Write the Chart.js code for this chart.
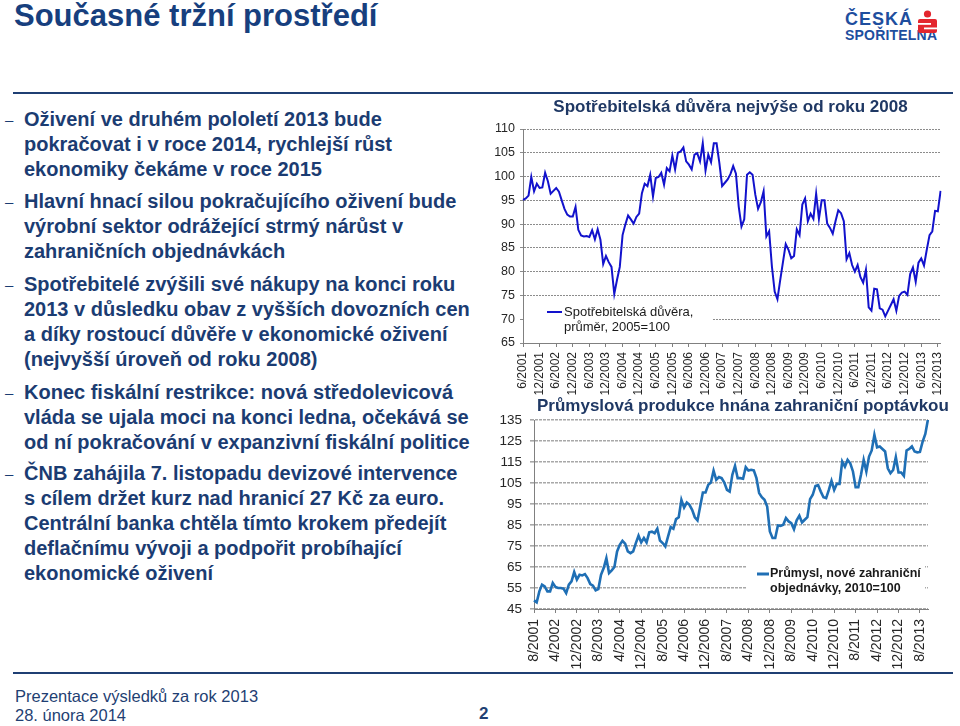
<!DOCTYPE html>
<html><head><meta charset="utf-8">
<script src="https://cdn.jsdelivr.net/npm/chart.js@4/dist/chart.umd.min.js"></script>
<style>
html,body{margin:0;padding:0;background:#fff}
body{width:960px;height:726px;position:relative;overflow:hidden;font-family:"Liberation Sans",Arial,sans-serif}
.abs{position:absolute}
#title{left:14px;top:0px;font:bold 31px/31px "Liberation Sans",Arial,sans-serif;color:#173f7e;white-space:nowrap}
hr.rule{position:absolute;left:13px;width:940px;margin:0;border:0;height:2px;background-color:#1f3f73;color:#1f3f73}
.b{position:absolute;left:24px;font:bold 20px/25px "Liberation Sans",Arial,sans-serif;color:#1b3c72;white-space:nowrap}
.d{position:absolute;left:-19px;font-weight:normal;font-size:15px}
.foot{position:absolute;left:15px;top:687px;font:16.5px/19px "Liberation Sans",Arial,sans-serif;color:#1f3f73;white-space:nowrap}
#pg{left:479px;top:704px;font:bold 17px/19px "Liberation Sans",Arial,sans-serif;color:#1f3f73}
.ct{position:absolute;font:bold 17px/20px "Liberation Sans",Arial,sans-serif;color:#1f3864;white-space:nowrap}
canvas{position:absolute}
#logo1{left:845px;top:10px;font:bold 18px/18px "Liberation Sans",Arial,sans-serif;color:#1e4e9e;letter-spacing:1px}
#logo2{left:845px;top:28px;font:bold 14px/14px "Liberation Sans",Arial,sans-serif;color:#1e4e9e;letter-spacing:0.2px}
</style></head>
<body>
<div id="title" class="abs">Současné tržní prostředí</div>
<div id="logo1" class="abs">ČESKÁ</div>
<div id="logo2" class="abs">SPOŘITELNA</div>
<svg class="abs" style="left:917px;top:10px" width="21" height="24" viewBox="0 0 21 24">
  <circle cx="10.5" cy="4" r="3.6" fill="#e3262e"/>
  <rect x="1" y="9" width="19" height="14" rx="2" fill="#e3262e"/>
  <rect x="1" y="13" width="13" height="1.8" fill="#fff"/>
  <rect x="7" y="17.5" width="13" height="1.8" fill="#fff"/>
</svg>
<hr class="rule" style="top:92px">
<svg class="abs" style="left:13px;top:668px" width="940" height="10" viewBox="0 0 940 10">
  <path d="M0 4 H940 V6 H0 Z" fill="#1f3f73"/>
</svg>

<div class="b" style="top:107px"><span class="d">–</span>Oživení ve druhém pololetí 2013 bude<br>pokračovat i v roce 2014, rychlejší růst<br>ekonomiky čekáme v roce 2015</div>
<div class="b" style="top:189px"><span class="d">–</span>Hlavní hnací silou pokračujícího oživení bude<br>výrobní sektor odrážející strmý nárůst v<br>zahraničních objednávkách</div>
<div class="b" style="top:272px"><span class="d">–</span>Spotřebitelé zvýšili své nákupy na konci roku<br>2013 v důsledku obav z vyšších dovozních cen<br>a díky rostoucí důvěře v ekonomické oživení<br>(nejvyšší úroveň od roku 2008)</div>
<div class="b" style="top:380px"><span class="d">–</span>Konec fiskální restrikce: nová středolevicová<br>vláda se ujala moci na konci ledna, očekává se<br>od ní pokračování v expanzivní fiskální politice</div>
<div class="b" style="top:461px"><span class="d">–</span>ČNB zahájila 7. listopadu devizové intervence<br>s cílem držet kurz nad hranicí 27 Kč za euro.<br>Centrální banka chtěla tímto krokem předejít<br>deflačnímu vývoji a podpořit probíhající<br>ekonomické oživení</div>

<canvas id="c1" width="470" height="300" style="left:490px;top:95px"></canvas>
<canvas id="c2" width="470" height="277" style="left:490px;top:395px"></canvas>
<div class="ct" style="left:0px;width:1461px;text-align:center;top:97px">Spotřebitelská důvěra nejvýše od roku 2008</div>
<div class="ct" style="left:537px;top:396px">Průmyslová produkce hnána zahraniční poptávkou</div>

<div class="foot">Prezentace výsledků za rok 2013<br>28. února 2014</div>
<div id="pg" class="abs">2</div>

<script>
// ---------- DATA ----------
const confidenceTitle = 'Spotřebitelská důvěra nejvýše od roku 2008';
const confidenceLegend = ['Spotřebitelská důvěra,', 'průměr, 2005=100'];
const confidenceStart = [6, 2001]; // month, year
const confidenceValues = [
  95.1, 95.4, 96.0, 99.9, 96.9, 98.5, 97.6, 97.7, 100.8, 99.0, 96.4, 97.0,
  97.6, 96.8, 95.0, 93.2, 92.0, 91.6, 91.6, 93.6, 88.8, 87.6, 87.4, 87.5,
  87.3, 88.7, 86.8, 88.9, 86.7, 81.6, 83.3, 82.0, 81.0, 75.3, 78.3, 81.0,
  87.7, 89.9, 91.8, 91.0, 90.1, 91.5, 92.2, 96.5, 98.5, 98.0, 100.4, 95.8,
  99.7, 99.9, 100.8, 98.3, 101.8, 101.1, 104.4, 101.5, 105.0, 105.3, 106.1, 103.2,
  102.5, 101.5, 104.6, 104.9, 103.2, 107.0, 101.3, 104.6, 103.0, 107.0, 107.0, 102.9,
  98.0, 98.7, 99.4, 100.5, 102.2, 100.6, 93.7, 89.5, 91.0, 100.4, 100.9, 100.4,
  96.2, 93.2, 94.6, 96.9, 87.4, 88.5, 81.1, 75.8, 74.2, 78.2, 82.0, 85.8,
  84.6, 82.8, 83.3, 88.9, 87.7, 94.1, 95.4, 90.6, 92.2, 91.1, 96.4, 91.1,
  95.0, 95.0, 90.1, 89.2, 88.0, 90.6, 92.9, 92.3, 90.6, 82.6, 83.9, 81.4,
  80.0, 81.4, 78.9, 77.7, 80.4, 72.5, 71.8, 76.4, 76.3, 72.3, 72.0, 70.6,
  71.8, 73.0, 74.2, 71.8, 74.9, 75.6, 75.8, 75.1, 79.5, 80.9, 77.9, 81.9,
  82.8, 81.3, 84.6, 87.7, 88.5, 92.8, 92.7, 97.0
];
const confidenceTicks = ['6/2001','12/2001','6/2002','12/2002','6/2003','12/2003','6/2004','12/2004',
  '6/2005','12/2005','6/2006','12/2006','6/2007','12/2007','6/2008','12/2008','6/2009','12/2009',
  '6/2010','12/2010','6/2011','12/2011','6/2012','12/2012','6/2013','12/2013'];
const confidenceYTicks = [65, 70, 75, 80, 85, 90, 95, 100, 105, 110];

const ordersTitle = 'Průmyslová produkce hnána zahraniční poptávkou';
const ordersLegend = ['Průmysl, nové zahraniční', 'objednávky, 2010=100'];
const ordersStart = [8, 2001];
const ordersValues = [
  49.1, 48.2, 53.4, 56.6, 55.8, 53.4, 53.4, 57.4, 55.5, 55.0, 55.0, 54.7,
  52.6, 56.6, 58.2, 62.6, 59.0, 61.3, 61.0, 61.6, 59.7, 56.9, 56.1, 53.9,
  54.5, 61.3, 64.5, 69.2, 62.1, 63.4, 65.0, 72.4, 75.6, 77.5, 76.1, 72.4,
  71.6, 72.4, 76.4, 79.9, 76.7, 78.8, 76.7, 81.5, 81.8, 81.1, 83.2, 77.6,
  76.4, 74.8, 79.5, 84.0, 83.2, 87.8, 88.7, 97.0, 93.3, 95.7, 94.6, 92.2,
  88.7, 87.2, 93.8, 100.5, 100.5, 104.1, 105.2, 110.9, 106.5, 107.8, 107.3, 105.2,
  101.7, 100.9, 108.9, 113.1, 107.3, 107.3, 107.0, 112.5, 110.9, 111.3, 111.0, 107.3,
  100.2, 98.2, 97.0, 93.8, 81.9, 78.8, 78.8, 84.8, 84.6, 85.1, 88.3, 86.7,
  85.9, 83.0, 87.2, 89.4, 86.2, 87.5, 88.7, 97.3, 99.4, 103.6, 104.0, 100.9,
  98.2, 97.8, 101.7, 106.0, 101.7, 104.6, 104.6, 115.2, 112.8, 116.0, 114.4, 110.5,
  103.0, 103.0, 108.9, 116.0, 110.5, 117.6, 120.5, 127.9, 122.0, 122.4, 121.2, 120.0,
  112.0, 109.7, 111.2, 117.3, 110.0, 110.0, 108.4, 120.5, 121.2, 122.4, 120.0, 119.6,
  119.8, 124.7, 128.4, 135.4
];
const ordersTicks = ['8/2001','4/2002','12/2002','8/2003','4/2004','12/2004','8/2005','4/2006',
  '12/2006','8/2007','4/2008','12/2008','8/2009','4/2010','12/2010','8/2011','4/2012','12/2012','8/2013'];
const ordersYTicks = [45, 55, 65, 75, 85, 95, 105, 115, 125, 135];

// ---------- HELPERS ----------
function monthCategories(start, n) {
  let m = start[0], y = start[1];
  const out = [];
  for (let i = 0; i < n; i++) { out.push(m + '/' + y); m++; if (m > 12) { m = 1; y++; } }
  return out;
}
const confidenceMonths = monthCategories(confidenceStart, confidenceValues.length);
const ordersMonths = monthCategories(ordersStart, ordersValues.length);

Chart.defaults.font.family = '"Liberation Sans", Arial, sans-serif';
Chart.defaults.color = '#333';

const insetLegend = {
  id: 'insetLegend',
  afterDatasetsDraw(chart, args, o) {
    if (!o || !o.lines) return;
    const ctx = chart.ctx, a = chart.chartArea;
    ctx.save();
    ctx.fillStyle = '#fff';
    ctx.fillRect(a.left + o.box[0], a.top + o.box[1], o.box[2], o.box[3]);
    ctx.strokeStyle = o.color; ctx.lineWidth = o.lineWidth;
    ctx.beginPath();
    ctx.moveTo(a.left + o.sample[0], a.top + o.sample[2]);
    ctx.lineTo(a.left + o.sample[1], a.top + o.sample[2]);
    ctx.stroke();
    ctx.fillStyle = o.textColor;
    ctx.font = o.font;
    ctx.textBaseline = 'middle';
    ctx.textAlign = 'left';
    o.lines.forEach((t, i) => ctx.fillText(t, a.left + o.text[0], a.top + o.text[1] + i * o.lineGap));
    ctx.restore();
  }
};

function makeChart(id, cfg) {
  const tickSet = new Set(cfg.ticks);
  return new Chart(document.getElementById(id), {
    type: 'line',
    data: {
      labels: cfg.months,
      datasets: [{
        label: cfg.legend.join(' '),
        data: cfg.values,
        borderColor: cfg.color,
        borderWidth: cfg.lineWidth,
        pointRadius: 0,
        tension: 0,
        fill: false
      }]
    },
    options: {
      responsive: false,
      animation: false,
      devicePixelRatio: 1,
      layout: { padding: cfg.padding },
      plugins: {
        legend: { display: false },
        tooltip: { enabled: false },
        title: { display: false },
        insetLegend: cfg.insetLegend
      },
      scales: {
        x: {
          type: 'category',
          offset: false,
          grid: {
            drawOnChartArea: false, drawTicks: true, tickLength: 4, lineWidth: 1,
            color: '#808080',
            tickColor: (c) => tickSet.has(cfg.months[c.index]) ? '#808080' : 'rgba(0,0,0,0)'
          },
          border: { display: true, color: '#808080', width: 1 },
          ticks: {
            autoSkip: false, maxRotation: 90, minRotation: 90,
            padding: cfg.xPad, color: '#262626', font: { size: cfg.xFont },
            callback: function (v) { const l = this.getLabelForValue(v); return tickSet.has(l) ? l : ''; }
          },
          afterFit: (s) => { s.height = cfg.xHeight; }
        },
        y: {
          min: cfg.yTicks[0], max: cfg.yTicks[cfg.yTicks.length - 1],
          afterBuildTicks: (s) => { s.ticks = cfg.yTicks.map(v => ({ value: v })); },
          grid: { color: cfg.gridColor, lineWidth: cfg.gridWidth, drawTicks: true, tickLength: cfg.yTickLen },
          border: { display: true, color: '#808080', width: 1, dash: cfg.gridDash },
          ticks: { padding: cfg.yPad, color: '#262626', font: { size: cfg.yFont } },
          afterFit: (s) => { s.width = cfg.yWidth; }
        }
      }
    },
    plugins: [insetLegend]
  });
}

makeChart('c1', {
  months: confidenceMonths, values: confidenceValues, ticks: confidenceTicks, yTicks: confidenceYTicks,
  legend: confidenceLegend, color: '#1212cc', lineWidth: 2,
  padding: { top: 34, right: 19, left: 0, bottom: 0 },
  xHeight: 52, xPad: 5, xFont: 12, yWidth: 33, yPad: 5, yFont: 12.5, yTickLen: 3,
  gridColor: '#8c8c8c', gridWidth: 1, gridDash: [2, 1],
  insetLegend: {
    box: [1, 172, 189, 40], sample: [24, 39, 183], text: [41, 183], lineGap: 15,
    lines: confidenceLegend, color: '#1212cc', lineWidth: 2, textColor: '#1a1a1a',
    font: '13px "Liberation Sans", Arial, sans-serif'
  }
});

makeChart('c2', {
  months: ordersMonths, values: ordersValues, ticks: ordersTicks, yTicks: ordersYTicks,
  legend: ordersLegend, color: '#1f6fb5', lineWidth: 2.6,
  padding: { top: 25, right: 32, left: 0, bottom: 0 },
  xHeight: 63, xPad: 6, xFont: 14, yWidth: 44, yPad: 8, yFont: 13.5, yTickLen: 4,
  gridColor: '#a8a8a8', gridWidth: 1.6, gridDash: [3, 1],
  insetLegend: {
    box: [213, 133, 178, 47], sample: [223, 235, 154], text: [236, 154], lineGap: 15,
    lines: ordersLegend, color: '#1f6fb5', lineWidth: 3, textColor: '#1a1a1a',
    font: 'bold 12.5px "Liberation Sans", Arial, sans-serif'
  }
});
</script>
</body></html>
